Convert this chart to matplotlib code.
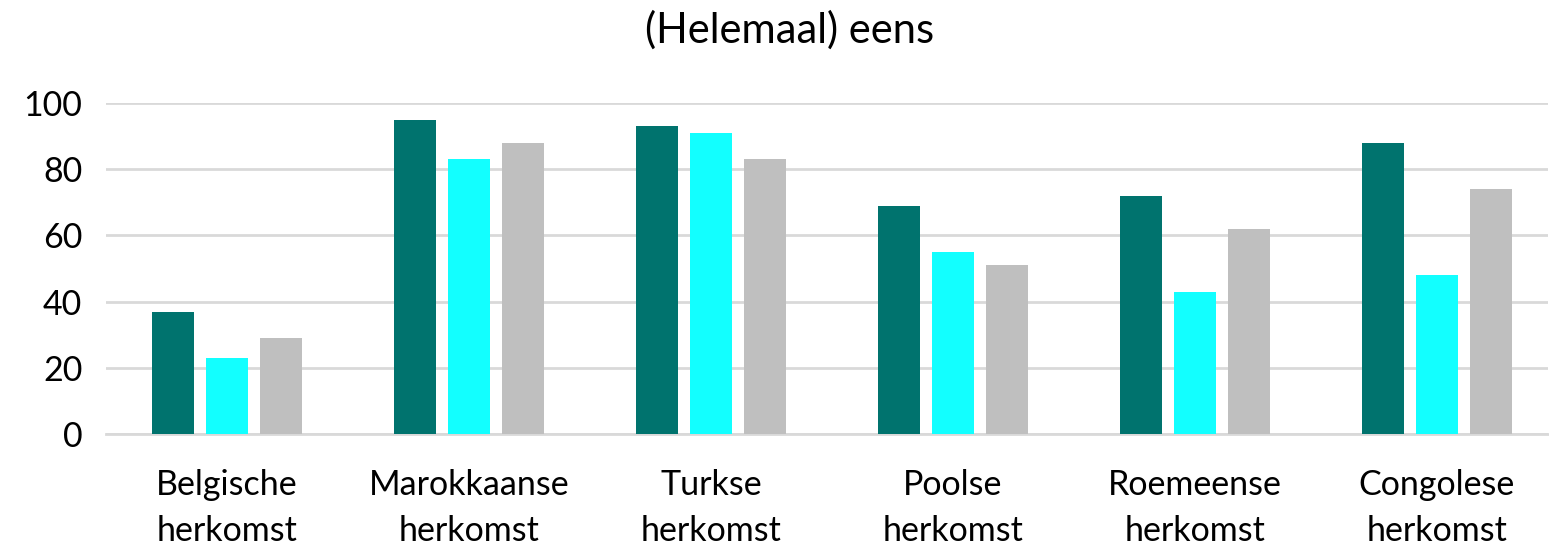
import numpy as np
import matplotlib
matplotlib.use('Agg')
import matplotlib.pyplot as plt

plt.rcParams['font.family'] = ['Lato', 'DejaVu Sans']

categories = ['Belgische\nherkomst', 'Marokkaanse\nherkomst', 'Turkse\nherkomst',
              'Poolse\nherkomst', 'Roemeense\nherkomst', 'Congolese\nherkomst']
series_1 = [37, 95, 93, 69, 72, 88]
series_2 = [23, 83, 91, 55, 43, 48]
series_3 = [29, 88, 83, 51, 62, 74]
colors = ['#00736E', '#12FFFF', '#BFBFBF']
yticks = [0, 20, 40, 60, 80, 100]

fig = plt.figure(figsize=(15.49, 5.45), dpi=100)
ax = fig.add_axes([106 / 1549, 111 / 545, 1442 / 1549, 331 / 545])

x = np.arange(len(categories))
width = 0.1736
step = 0.223
for i, (vals, col) in enumerate(zip([series_1, series_2, series_3], colors)):
    ax.bar(x + (i - 1) * step, vals, width, color=col, zorder=3)

ax.set_xlim(-0.5, 5.459)
ax.set_ylim(0, 100)
ax.set_yticks(yticks)
ax.set_xticks(x)
ax.set_xticklabels(categories, fontsize=24.5, linespacing=1.55)
ax.tick_params(axis='y', length=0, pad=17, labelsize=24.5)
ax.tick_params(axis='x', length=0, pad=25)
ax.grid(axis='y', color='#D9D9D9', linewidth=2, zorder=0)
for s in ['top', 'right', 'left']:
    ax.spines[s].set_visible(False)
ax.spines['bottom'].set_color('#D9D9D9')
ax.spines['bottom'].set_linewidth(2)

fig.text(790 / 1549, 1 - 30 / 545, '(Helemaal) eens', ha='center', va='center', fontsize=30)

fig.savefig('out.png', dpi=100)
